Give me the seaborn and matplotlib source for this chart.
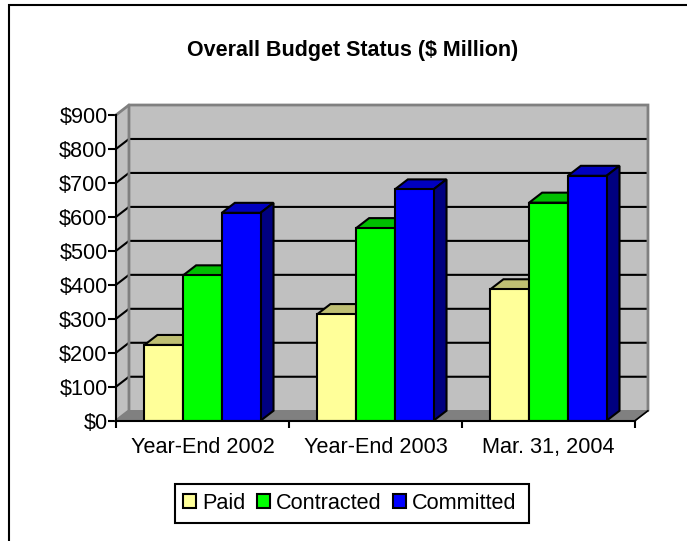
import matplotlib
matplotlib.use("Agg")
import matplotlib.pyplot as plt
import pandas as pd
import seaborn as sns
from matplotlib.colors import to_rgb
from matplotlib.lines import Line2D
from matplotlib.patches import Polygon, Rectangle

periods = ["Year-End 2002", "Year-End 2003", "Mar. 31, 2004"]
paid = [223, 314, 387]
contracted = [428, 567, 642]
committed = [612, 681, 721]
y_ticks = [0, 100, 200, 300, 400, 500, 600, 700, 800, 900]
y_labels = ["$0", "$100", "$200", "$300", "$400", "$500", "$600", "$700", "$800", "$900"]
colors = {"Paid": "#FFFF99", "Contracted": "#00FF00", "Committed": "#0000FF"}

df = pd.DataFrame({
    "period": periods * 3,
    "series": ["Paid"] * 3 + ["Contracted"] * 3 + ["Committed"] * 3,
    "value": paid + contracted + committed,
})

W, H = 687, 541
sns.set_theme(style="white")
plt.rcParams["font.family"] = ["Liberation Sans", "DejaVu Sans"]

fig = plt.figure(figsize=(W / 100, H / 100), dpi=100)
ax = fig.add_axes([116 / W, 1 - 420.7 / H, 519 / W, 305.7 / H])

sns.barplot(data=df, x="period", y="value", hue="series", palette=colors,
            width=0.671, gap=0, saturation=1, edgecolor="black", linewidth=1.5,
            legend=True, ax=ax)

ax.set_xlim(-0.5, 2.5)
ax.set_ylim(0, 900)

# depth of the fake 3d box, in data units
dx = 0.075
dy = 29.4
x0, x1 = -0.5, 2.5
top = 900

# back wall, side wall and floor
ax.add_patch(Polygon([(x0 + dx, dy), (x1 + dx, dy), (x1 + dx, top + dy), (x0 + dx, top + dy)],
                     closed=True, fc="#C0C0C0", ec="none", zorder=0.5, clip_on=False))
ax.add_patch(Polygon([(x0, 0), (x0 + dx, dy), (x0 + dx, top + dy), (x0, top)],
                     closed=True, fc="#C0C0C0", ec="none", zorder=0.6, clip_on=False))
for y in y_ticks[1:-1]:
    ax.plot([x0, x0 + dx, x1 + dx], [y, y + dy, y + dy], color="black", lw=1.5,
            zorder=0.7, clip_on=False, solid_joinstyle="miter")
ax.add_patch(Polygon([(x0, 0), (x1, 0), (x1 + dx, dy), (x0 + dx, dy)],
                     closed=True, fc="#808080", ec="#808080", lw=1, zorder=0.8, clip_on=False))
# grey edges go over the grid lines
ax.plot([x0, x0 + dx, x1 + dx, x1 + dx], [top, top + dy, top + dy, dy], color="#808080", lw=2,
        zorder=0.9, clip_on=False, solid_joinstyle="miter")
ax.plot([x0, x0 + dx, x0 + dx], [0, dy, top + dy], color="#808080", lw=2,
        zorder=0.9, clip_on=False, solid_joinstyle="miter")
ax.plot([x1, x1 + dx], [0, dy], color="black", lw=1.2, zorder=0.95, clip_on=False)

# tops and sides of the bars, series by series so the next one covers them
for i, container in enumerate(ax.containers):
    z = 2 + i
    for bar in container:
        left = bar.get_x()
        right = left + bar.get_width()
        h = bar.get_height()
        base = to_rgb(bar.get_facecolor()[:3])
        top_col = tuple(c * 0.75 for c in base)
        side_col = tuple(c * 0.5 for c in base)
        ax.add_patch(Polygon([(left, h), (right, h), (right + dx, h + dy), (left + dx, h + dy)],
                             closed=True, fc=top_col, ec="black", lw=1.5, zorder=z, clip_on=False))
        ax.add_patch(Polygon([(right, 0), (right + dx, dy), (right + dx, h + dy), (right, h)],
                             closed=True, fc=side_col, ec="black", lw=1.5, zorder=z, clip_on=False))
        bar.set_zorder(z + 0.5)

for s in ["top", "right"]:
    ax.spines[s].set_visible(False)
for s in ["left", "bottom"]:
    ax.spines[s].set_color("black")
    ax.spines[s].set_linewidth(1.5)
    ax.spines[s].set_zorder(10)

ax.set_yticks(y_ticks)
ax.set_yticklabels(y_labels)
ax.set_xticks([0, 1, 2])
ax.set_xticklabels(periods)
ax.set_xticks([-0.5, 0.5, 1.5, 2.5], minor=True)
ax.tick_params(axis="x", which="major", length=0, pad=12, labelsize=15.6, colors="black")
ax.tick_params(axis="x", which="minor", length=5, width=1.5, color="black", bottom=True)
ax.tick_params(axis="y", length=6, width=1.5, color="black", left=True, pad=0, labelsize=15.6, labelcolor="black")
ax.set_xlabel("")
ax.set_ylabel("")

fig.text(353 / W, 1 - 50 / H, "Overall Budget Status ($ Million)", fontsize=15.5, fontweight="bold",
         ha="center", va="center", color="black")

# legend frame is drawn separately, the original has more room on the right
fig.add_artist(Rectangle((175 / W, 1 - 523 / H), 354 / W, 39 / H, transform=fig.transFigure,
                         fc="none", ec="black", lw=1.5))
handles, labels = ax.get_legend_handles_labels()
leg = ax.legend(handles, labels, ncol=3, loc="center left", bbox_to_anchor=(182.7 / W, 1 - 503.5 / H),
                bbox_transform=fig.transFigure, frameon=False, fontsize=15.6,
                handlelength=0.6, handleheight=0.6, handletextpad=0.28, columnspacing=0.53,
                borderpad=0, borderaxespad=0)
for t in leg.get_texts():
    t.set_color("black")
for p in leg.get_patches():
    p.set_linewidth(1.5)
    p.set_edgecolor("black")

# only the top and left of the outer frame are in the picture
fig.add_artist(Line2D([9 / W, 9 / W, 1], [0, 1 - 5 / H, 1 - 5 / H], transform=fig.transFigure,
                      color="black", lw=1.5, solid_joinstyle="miter"))

fig.savefig("out.png", dpi=100)
